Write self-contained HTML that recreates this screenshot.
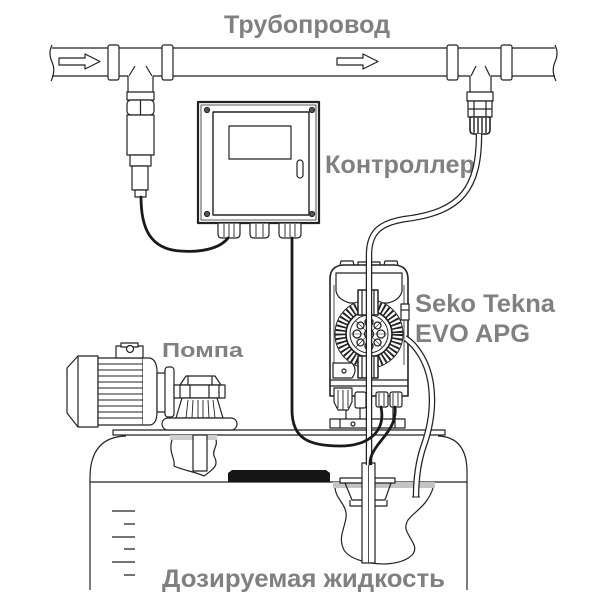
<!DOCTYPE html>
<html><head><meta charset="utf-8"><style>
html,body{margin:0;padding:0;background:#fff;}
svg{display:block;}
text{font-family:"Liberation Sans","Noto Sans CJK SC",sans-serif;font-weight:bold;fill:#808080;}
</style></head><body>
<svg width="603" height="603" viewBox="0 0 603 603" xmlns="http://www.w3.org/2000/svg">
<rect width="603" height="603" fill="#fff"/>

<!-- Labels -->
<text x="224" y="33" font-size="25" textLength="166" lengthAdjust="spacingAndGlyphs">Трубопровод</text>
<text x="325" y="173" font-size="25" textLength="150" lengthAdjust="spacingAndGlyphs">Контроллер</text>
<text x="415" y="312" font-size="25" textLength="140" lengthAdjust="spacingAndGlyphs">Seko Tekna</text>
<text x="415" y="342" font-size="25" textLength="115" lengthAdjust="spacingAndGlyphs">EVO APG</text>
<text x="162" y="357" font-size="20.5" textLength="81" lengthAdjust="spacingAndGlyphs">Помпа</text>
<text x="162" y="587" font-size="25" textLength="283" lengthAdjust="spacingAndGlyphs">Дозируемая жидкость</text>

<g stroke="#222" stroke-width="1.2" fill="none" stroke-linejoin="round">
<!-- PIPE -->
<path d="M52,48 L108,48 M119,48 L162,48 M173,48 L447,48 M458,48 L501,48 M512,48 L555,48"/>
<path d="M52,76 L108,76 M119,76 L128,76 M153,76 L162,76 M173,76 L447,76 M458,76 L470,76 M491,76 L501,76 M512,76 L555,76"/>
<path d="M52,45 q-4,8 0,17 q4,9 -1,19"/>
<path d="M555,45 q4,8 0,17 q-4,9 1,19"/>
<rect x="108" y="45" width="11" height="35" rx="2" fill="#fff"/>
<rect x="162" y="45" width="11" height="35" rx="2" fill="#fff"/>
<rect x="447" y="45" width="11" height="35" rx="2" fill="#fff"/>
<rect x="501" y="45" width="11" height="35" rx="2" fill="#fff"/>
<path d="M128,76 L128,92 M153,76 L153,92 M129,76 L135,66 M152,76 L146,66"/>
<path d="M470,76 L470,92 M491,76 L491,92 M471,76 L476,66 M490,76 L485,66"/>
<polygon points="59,58 85,58 85,54 100,61.5 85,69 85,65 59,65"/>
<polygon points="337,58 363,58 363,54 378,61.5 363,69 363,65 337,65"/>

<!-- LEFT SENSOR -->
<rect x="127" y="92" width="27" height="8" fill="#fff"/>
<rect x="127" y="100" width="27" height="15" rx="4" fill="#fff"/>
<line x1="140.5" y1="100" x2="140.5" y2="115"/>
<rect x="127" y="115" width="27" height="40" fill="#fff"/>
<rect x="130" y="155" width="21" height="11" fill="#fff"/>
<rect x="132" y="166" width="16" height="24" fill="#fff"/>
<rect x="135" y="190" width="11" height="7" fill="#fff"/>

<!-- RIGHT FITTING -->
<rect x="467" y="92" width="26" height="9" fill="#fff"/>
<rect x="468" y="101" width="24" height="16" fill="#fff"/>
<path d="M474,101 L474,117 M486,101 L486,117 M468,109 L492,109"/>
<path d="M470,117 L490,117 L490,130 Q490,134 486,134 L474,134 Q470,134 470,130 Z" fill="#fff" stroke-width="1.6"/>
<path d="M474,118 L474,133 M478,118 L478,133 M482,118 L482,133 M486,118 L486,133" stroke-width="1.4"/>

<!-- CONTROLLER -->
<rect x="198" y="102" width="121" height="121" stroke-width="2.2" fill="#fff"/>
<rect x="201" y="105" width="115" height="115" stroke-width="0.8"/>
<rect x="213" y="112" width="96" height="103" stroke-width="1.4"/>
<rect x="229" y="126" width="62" height="33" stroke-width="1.2"/>
<rect x="297" y="160" width="6" height="18" rx="3"/>
<g stroke-width="1">
<circle cx="207" cy="110" r="2.6" fill="#555"/><circle cx="312" cy="110" r="2.6" fill="#555"/>
<circle cx="207" cy="214" r="2.6" fill="#555"/><circle cx="312" cy="214" r="2.6" fill="#555"/>
</g>
<g fill="#fff">
<path d="M218,223 L240,223 L240,234 Q240,238 236,238 L222,238 Q218,238 218,234 Z"/>
<path d="M250,223 L269,223 L269,234 Q269,238 265,238 L254,238 Q250,238 250,234 Z"/>
<path d="M279,223 L301,223 L301,234 Q301,238 297,238 L283,238 Q279,238 279,234 Z"/>
</g>
<path d="M224,224 L224,237 M229,224 L229,237 M234,224 L234,237 M256,224 L256,237 M263,224 L263,237 M285,224 L285,237 M290,224 L290,237 M295,224 L295,237" stroke-width="0.9"/>

<!-- TANK -->
<path d="M90,590 L90,478 Q90,437 126,436"/>
<path d="M467,590 L467,472 Q467,437 438,436"/>
<rect x="113" y="430" width="332" height="5" fill="#fff"/>
<line x1="90" y1="482" x2="467" y2="482"/>
<polygon points="228,482 228,473 232,470 326,470 330,473 330,482" fill="#161616" stroke="none"/>
<path d="M112,511 L135,511 M124,524 L135,524 M112,537 L135,537 M124,549 L135,549 M112,562 L135,562 M124,575 L135,575"/>

<!-- liquid blob under motor pump -->
<rect x="170" y="435" width="47" height="5" fill="#cfcfcf" stroke="none"/>
<path d="M172,440 C168,452 176,460 174,466 C182,470 196,472 204,476 C212,470 220,466 214,456 C212,450 218,446 216,440"/>
<rect x="193" y="435" width="14" height="36" fill="#fff"/>

<!-- right liquid blob -->
<rect x="333" y="482" width="102" height="6" fill="#c4c4c4" stroke="none"/>
<path d="M335,488 C336,500 348,505 346,518 C344,530 338,538 344,550 C350,560 370,564 385,564 C405,563 418,555 414,545 C410,535 402,530 408,520 C414,512 428,505 433,488"/>
<!-- lid fitting -->
<path d="M340,478 L395,478 L395,483 L340,483 Z" fill="#fff"/>
<path d="M345,483 L352,500 L385,500 L391,483"/>
<path d="M350,500 L350,506 L387,506 L387,500"/>
<!-- probe -->
<rect x="362" y="463" width="13" height="100" fill="#fff"/>
<line x1="368.5" y1="463" x2="368.5" y2="563" stroke-width="0.8"/>

<!-- MOTOR -->
<path d="M78,356 L98,356 L98,427 L78,427 L67,413 L67,368 Z" fill="#fff"/>
<line x1="78" y1="356" x2="78" y2="427"/>
<rect x="98" y="358" width="45" height="67" fill="#fff"/>
<path d="M98,364 H143 M98,370 H143 M98,376 H143 M98,382 H143 M98,388 H143 M98,394 H143 M98,400 H143 M98,406 H143 M98,412 H143 M98,418 H143" stroke-width="1"/>
<rect x="116" y="346" width="27" height="12" fill="#fff"/>
<rect x="121" y="343" width="17" height="4" fill="#fff"/>
<circle cx="130" cy="349" r="3.5" fill="#fff"/>
<path d="M143,358 L150,358 Q157,360 157,372 L157,412 Q157,424 150,425 L143,425" fill="#fff"/>
<rect x="157" y="373" width="9" height="39" fill="#fff"/>
<rect x="165" y="367" width="9" height="50" rx="3" fill="#fff"/>
<path d="M180,385 L186,376 L215,376 L221,385 Z" fill="#fff"/>
<path d="M188,376 L188,385 M212,376 L212,385"/>
<rect x="174" y="385" width="51" height="13" fill="#fff"/>
<path d="M180,385 L180,398 M219,385 L219,398 M190,385 L190,398 M209,385 L209,398"/>
<path d="M182,398 L176,418 L223,418 L217,398 Z" fill="#fff"/>
<path d="M188,400 L186,418 M193,400 L192,418 M198,400 L198,418 M203,400 L203,418 M208,400 L209,418 M213,400 L215,418" stroke-width="0.9"/>
<rect x="162" y="418" width="75" height="12" rx="6" fill="#fff"/>

<!-- DOSING PUMP -->
<path d="M330,396 L330,279 Q330,266 343,265 L395,265 Q408,266 408,279 L408,396 Z" fill="#fff" stroke-width="1.6"/>
<path d="M340,265 L341,261 L353,261 L354,265 M384,265 L385,261 L397,261 L398,265 M358,265 L358,262 L380,262 L380,265"/>
<path d="M336,273 L336,291 Q338,300 350,303 L388,303 Q400,300 402,291 L402,273 Z"/>
<path d="M334,285 L334,365 M404,285 L404,365" stroke-width="0.8"/>
<!-- head gear -->
<circle cx="369" cy="334" r="34" fill="#fff" stroke-width="1"/>
<circle cx="369" cy="334" r="28.5" stroke-width="10" stroke-dasharray="1.8 2.2"/>
<circle cx="369" cy="334" r="23" fill="#fff" stroke-width="1.6"/>
<circle cx="369" cy="334" r="19" stroke-width="1"/>
<g stroke-width="1.3">
<circle cx="369" cy="322" r="4"/><circle cx="369" cy="346" r="4"/>
<circle cx="357" cy="334" r="4"/><circle cx="381" cy="334" r="4"/>
<circle cx="360.5" cy="325.5" r="3.5"/><circle cx="377.5" cy="325.5" r="3.5"/>
<circle cx="360.5" cy="342.5" r="3.5"/><circle cx="377.5" cy="342.5" r="3.5"/>
<circle cx="369" cy="334" r="4.5"/>
<path d="M369,316 V352 M351,334 H387 M356,321 L382,347 M382,321 L356,347" stroke-width="0.6"/>
</g>
<!-- valve blocks -->
<rect x="358" y="290" width="20" height="25" fill="#fff" stroke-width="1.5"/>
<rect x="358" y="356" width="20" height="22" fill="#fff" stroke-width="1.5"/>
<path d="M362,290 V315 M374,290 V315 M362,356 V378 M374,356 V378"/>
<!-- side brackets -->
<rect x="401" y="304" width="8" height="16" fill="#fff"/>
<path d="M401,310 H409"/>
<!-- lower body -->
<path d="M330,380 H408 M330,386 H408"/>
<path d="M333,363 L352,363 Q358,370 352,378 L333,378 Z" fill="#fff"/>
<circle cx="344" cy="371" r="2"/>
<!-- glands -->
<path d="M334,388 L352,388 L352,402 L348,410 L338,410 L334,402 Z" fill="#fff"/>
<path d="M338,390 V408 M343,390 V410 M348,390 V408" stroke-width="0.9"/>
<rect x="355" y="392" width="11" height="16" rx="2" fill="#fff"/>
<rect x="376" y="392" width="12" height="15" rx="2" fill="#fff"/>
<rect x="390" y="392" width="12" height="15" rx="2" fill="#fff"/>
<path d="M379,393 V406 M384,393 V406 M393,393 V406 M398,393 V406" stroke-width="0.9"/>
<path d="M346,410 V419 M360,408 V419 M393,407 V419"/>
<rect x="330" y="419" width="75" height="9" fill="#fff"/>
<path d="M340,419 V428 M395,419 V428"/>
<circle cx="353" cy="424" r="2"/>
</g>

<!-- TUBES (double line) -->
<g fill="none" stroke-linecap="butt">
<path d="M479,134 C479,188 462,212 405,219 C380,223 369,232 369,255 L369,465" stroke="#222" stroke-width="6.5"/>
<path d="M479,134 C479,188 462,212 405,219 C380,223 369,232 369,255 L369,465" stroke="#fff" stroke-width="4"/>
<path d="M405,338 C416,345 428,362 431,385 C434,408 430,428 424,445 C418,462 416,478 416,497" stroke="#222" stroke-width="6.5"/>
<path d="M405,338 C416,345 428,362 431,385 C434,408 430,428 424,445 C418,462 416,478 416,497" stroke="#fff" stroke-width="4"/>
<path d="M412,497 H420" stroke="#222" stroke-width="1"/>
</g>

<!-- CABLES -->
<g fill="none" stroke="#1a1a1a" stroke-width="2.8" stroke-linecap="round">
<path d="M141,197 C141,228 150,249 180,251 C207,253 222,246 228,238"/>
<path d="M292,238 L292,410 C292,438 308,446 340,446 C368,446 386,432 381,407"/>
<path d="M395,407 C397,425 384,436 377,446 C372,453 370,458 370,464"/>
</g>
</svg>
</body></html>
